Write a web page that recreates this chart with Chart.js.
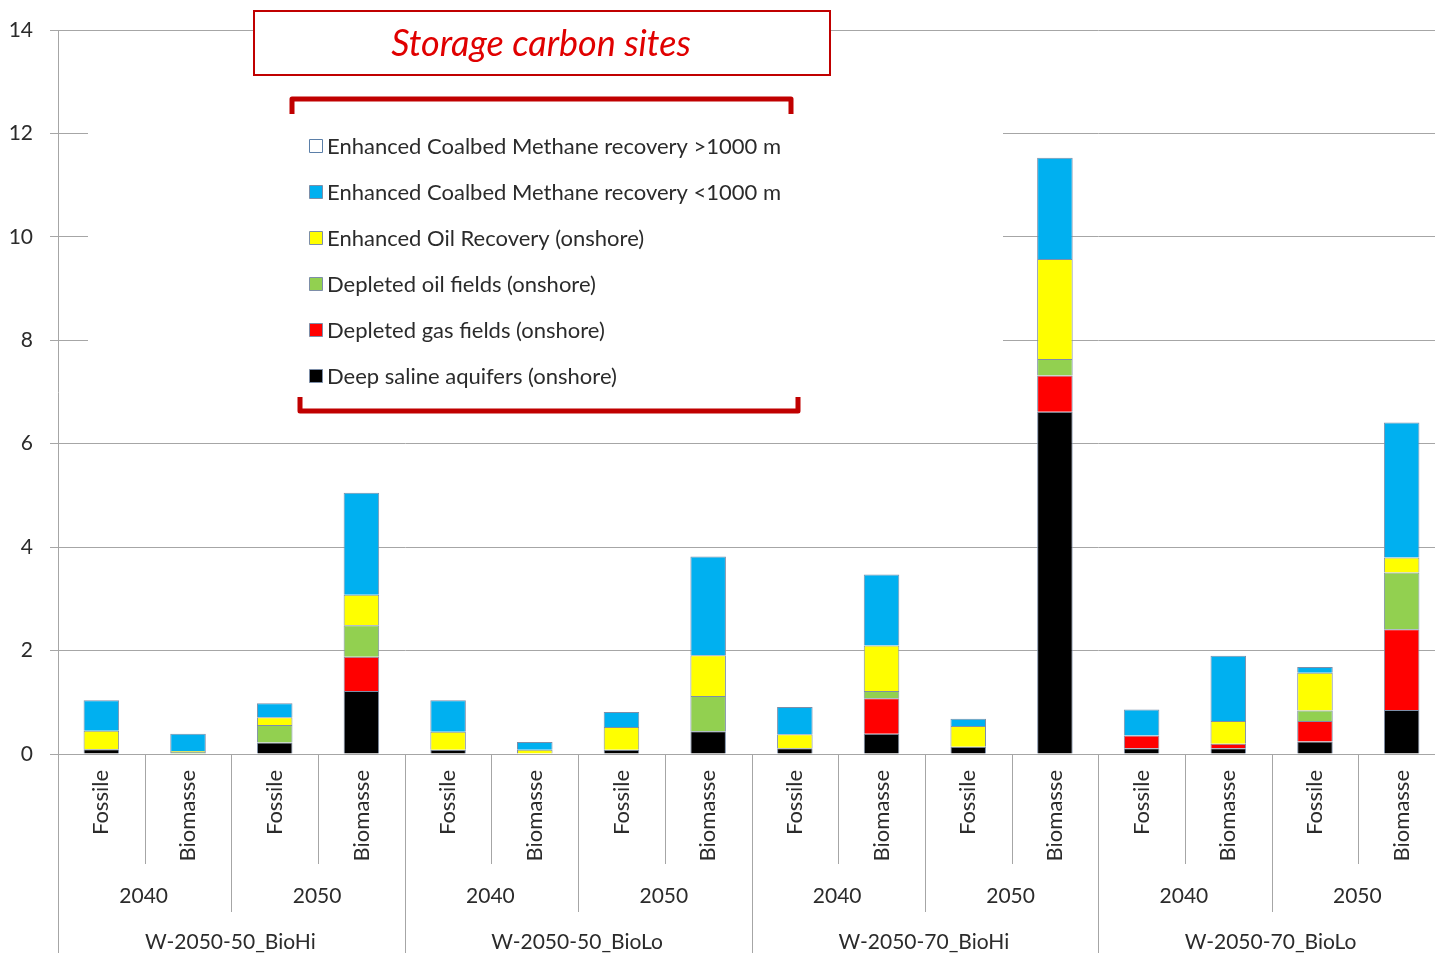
<!DOCTYPE html>
<html>
<head>
<meta charset="utf-8">
<script src="https://cdn.jsdelivr.net/npm/chart.js@4.4.1/dist/chart.umd.min.js"></script>
<style>
  html, body { margin: 0; padding: 0; background: #fff; overflow: hidden; }
  #wrap { width: 1447px; height: 953px; }
</style>
</head>
<body>
<div id="wrap"><canvas id="chart" width="1447" height="953"></canvas></div>
<script>
// Storage carbon sites - stacked bars per scenario / year / source

const categories = ['Fossile', 'Biomasse', 'Fossile', 'Biomasse', 'Fossile', 'Biomasse', 'Fossile', 'Biomasse',
  'Fossile', 'Biomasse', 'Fossile', 'Biomasse', 'Fossile', 'Biomasse', 'Fossile', 'Biomasse']
const years = ['2040', '2050']
const scenarios = ['W-2050-50_BioHi', 'W-2050-50_BioLo', 'W-2050-70_BioHi', 'W-2050-70_BioLo']
const yTicks = [0, 2, 4, 6, 8, 10, 12, 14]

// series values
const deepSaline = [0.09, 0.01, 0.22, 1.22, 0.08, 0.0, 0.08, 0.44, 0.11, 0.39, 0.14, 6.62, 0.11, 0.11, 0.24, 0.85]
const depletedGas = [0, 0, 0, 0.66, 0, 0, 0, 0, 0, 0.69, 0, 0.7, 0.25, 0.09, 0.4, 1.56]
const depletedOil = [0, 0.03, 0.34, 0.61, 0, 0, 0, 0.68, 0, 0.14, 0, 0.32, 0, 0, 0.2, 1.1]
const oilRecovery = [0.36, 0.02, 0.15, 0.59, 0.35, 0.08, 0.44, 0.79, 0.27, 0.88, 0.4, 1.93, 0, 0.44, 0.73, 0.29]
const ecbmShallow = [0.59, 0.33, 0.27, 1.97, 0.61, 0.15, 0.29, 1.91, 0.53, 1.37, 0.14, 1.96, 0.5, 1.26, 0.11, 2.61]
const ecbmDeep = [0, 0, 0, 0, 0, 0, 0, 0, 0, 0, 0, 0, 0, 0, 0, 0]

const FONT = 'Lato, "Liberation Sans", sans-serif'
const TEXT = '#2b2b2b'
const GRID = '#a6a6a6'
const EDGE = '#7d8ea8'

function serie(label, data, color, border) {
  return { label, data, backgroundColor: color, borderColor: border || EDGE, borderWidth: 1 }
}

// legend, title box, brackets and the multi-level x axis
const decorPlugin = {
  id: 'decor',
  beforeDatasetsDraw(chart) {
    const ctx = chart.ctx
    ctx.save()
    ctx.fillStyle = '#fff'
    ctx.fillRect(88, 92, 915, 328)
    ctx.restore()
  },
  afterDraw(chart) {
    const ctx = chart.ctx
    const xs = chart.scales.x
    ctx.save()

    // title box
    ctx.fillStyle = '#fff'
    ctx.fillRect(253, 10, 577, 65)
    ctx.strokeStyle = '#c00000'
    ctx.lineWidth = 2
    ctx.strokeRect(254, 11, 576, 64)
    ctx.fillStyle = '#e00000'
    ctx.font = 'italic 36px ' + FONT
    ctx.textAlign = 'center'
    ctx.textBaseline = 'middle'
    ctx.fillText('Storage carbon sites', 541, 44)

    // red brackets round the legend
    ctx.strokeStyle = '#c00000'
    ctx.lineWidth = 5
    ctx.lineJoin = 'round'
    ctx.beginPath()
    ctx.moveTo(292, 114); ctx.lineTo(292, 99); ctx.lineTo(791, 99); ctx.lineTo(791, 114)
    ctx.stroke()
    ctx.beginPath()
    ctx.moveTo(300, 397); ctx.lineTo(300, 411); ctx.lineTo(798, 411); ctx.lineTo(798, 397)
    ctx.stroke()

    // legend (top of stack first)
    const sets = chart.data.datasets.slice().reverse()
    ctx.font = '22px ' + FONT
    ctx.textAlign = 'left'
    ctx.textBaseline = 'middle'
    sets.forEach((ds, i) => {
      const y = 146 + i * 46
      ctx.fillStyle = ds.backgroundColor
      ctx.fillRect(309.5, y - 6.5, 13, 13)
      ctx.strokeStyle = ds.borderColor
      ctx.lineWidth = 1
      ctx.strokeRect(309.5, y - 6.5, 13, 13)
      ctx.fillStyle = TEXT
      ctx.fillText(ds.label, 327, y + 1)
    })

    // axis line down through the label rows
    ctx.strokeStyle = GRID
    ctx.lineWidth = 1
    ctx.beginPath()
    ctx.moveTo(58.5, 754); ctx.lineTo(58.5, 953)
    for (let i = 1; i < categories.length; i++) {
      const x = Math.round((xs.getPixelForValue(i - 1) + xs.getPixelForValue(i)) / 2) + 0.5
      let bottom = 864
      if (i % 2 === 0) bottom = 912
      if (i % 4 === 0) bottom = 953
      ctx.moveTo(x, 754); ctx.lineTo(x, bottom)
    }
    ctx.stroke()

    // year and scenario rows
    ctx.fillStyle = TEXT
    ctx.font = '21px ' + FONT
    ctx.textAlign = 'center'
    for (let g = 0; g < categories.length / 2; g++) {
      const x = (xs.getPixelForValue(2 * g) + xs.getPixelForValue(2 * g + 1)) / 2
      ctx.fillText(years[g % 2], x - 1, 896)
    }
    scenarios.forEach((s, k) => {
      const x = (xs.getPixelForValue(4 * k) + xs.getPixelForValue(4 * k + 3)) / 2
      ctx.fillText(s, x - 1, 942)
    })
    ctx.restore()
  },
}

new Chart(document.getElementById('chart'), {
  type: 'bar',
  data: {
    labels: categories,
    datasets: [
      serie('Deep saline aquifers (onshore)', deepSaline, '#000000'),
      serie('Depleted gas fields (onshore)', depletedGas, '#ff0000'),
      serie('Depleted oil fields (onshore)', depletedOil, '#92d050'),
      serie('Enhanced Oil Recovery (onshore)', oilRecovery, '#ffff00'),
      serie('Enhanced Coalbed Methane recovery <1000 m', ecbmShallow, '#00b0f0'),
      serie('Enhanced Coalbed Methane recovery >1000 m', ecbmDeep, '#ffffff', '#5b7fa8'),
    ],
  },
  options: {
    responsive: false,
    animation: false,
    devicePixelRatio: 1,
    layout: { padding: { top: 30, right: 2, left: 0, bottom: 0 } },
    datasets: { bar: { barPercentage: 0.41, categoryPercentage: 1.0 } },
    plugins: { legend: { display: false }, tooltip: { enabled: false }, title: { display: false } },
    scales: {
      x: {
        stacked: true,
        grid: { display: false, drawTicks: false },
        border: { display: false },
        ticks: {
          autoSkip: false,
          minRotation: 90,
          maxRotation: 90,
          padding: 16,
          color: TEXT,
          font: { family: FONT, size: 22 },
        },
        afterFit(scale) { scale.height = 199 },
      },
      y: {
        stacked: true,
        min: 0,
        max: 14,
        afterBuildTicks(scale) { scale.ticks = yTicks.map(v => ({ value: v })) },
        grid: { color: GRID, tickColor: GRID, tickLength: 8, lineWidth: 1 },
        border: { display: true, color: GRID },
        ticks: { padding: 17, color: TEXT, font: { family: FONT, size: 21 } },
        afterFit(scale) { scale.width = 58 },
      },
    },
  },
  plugins: [decorPlugin],
})
</script>
</body>
</html>
